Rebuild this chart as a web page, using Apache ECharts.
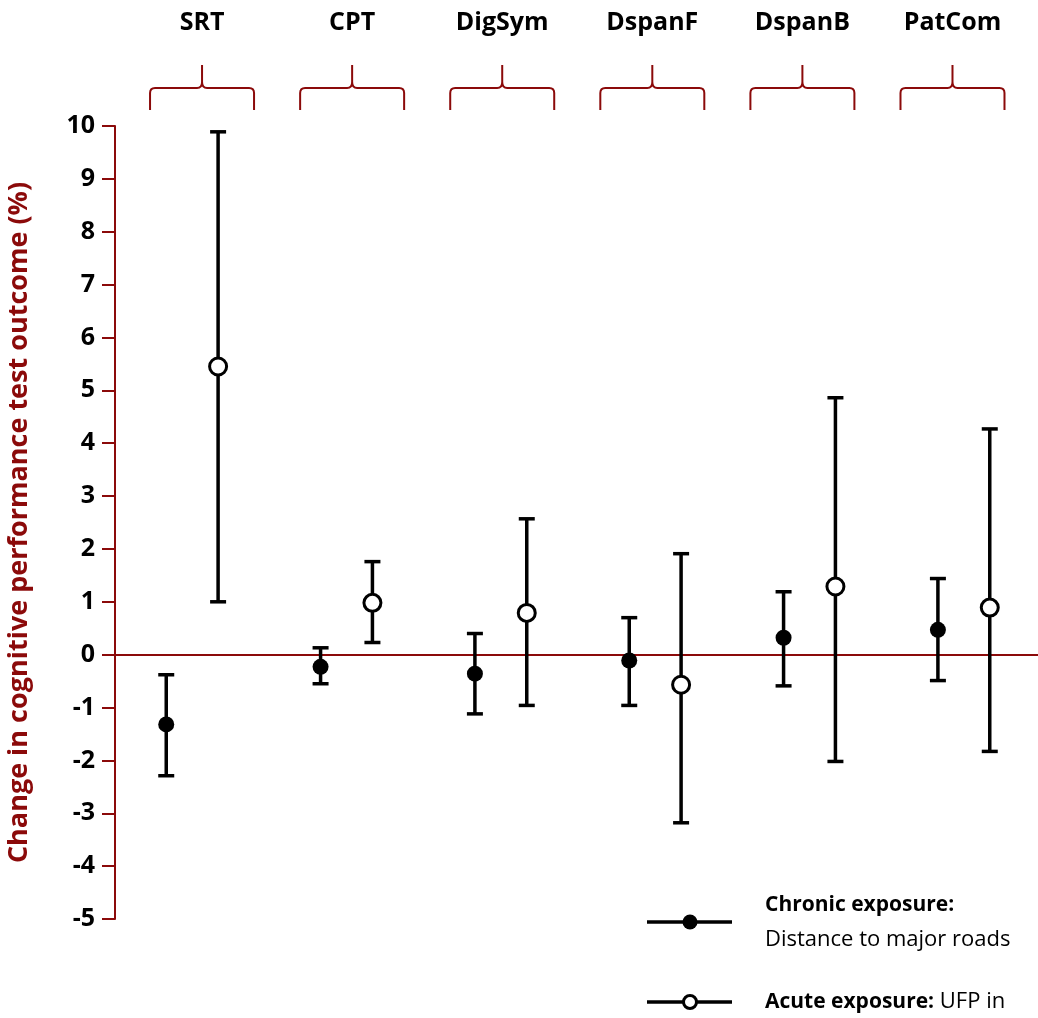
<!DOCTYPE html>
<html>
<head>
<meta charset="utf-8">
<script src="https://cdn.jsdelivr.net/npm/echarts@6/dist/echarts.min.js"></script>
<style>
  html, body { margin: 0; padding: 0; background: #fff; }
  #main { width: 1038px; height: 1018px; }
</style>
</head>
<body>
<div id="main"></div>
<script>
// cognitive tests (groups along x)
var groups = ['SRT', 'CPT', 'DigSym', 'DspanF', 'DspanB', 'PatCom'];

// chronic exposure: distance to major roads
var chronicEst  = [-1.32, -0.23, -0.36, -0.11, 0.32, 0.47];
var chronicLow  = [-2.29, -0.55, -1.12, -0.96, -0.59, -0.49];
var chronicHigh = [-0.38, 0.13, 0.40, 0.70, 1.19, 1.44];

// acute exposure: UFP
var acuteEst  = [5.45, 0.98, 0.79, -0.57, 1.29, 0.89];
var acuteLow  = [1.00, 0.23, -0.96, -3.18, -2.02, -1.83];
var acuteHigh = [9.89, 1.76, 2.57, 1.91, 4.86, 4.27];

var yTicks = [-5, -4, -3, -2, -1, 0, 1, 2, 3, 4, 5, 6, 7, 8, 9, 10];

var red = '#8b0a0a';
var font = '"Open Sans", Lato, sans-serif';
var off = 0.168;
// the braces above the plot sit on a slightly narrower pitch than the point pairs
var braceStart = 0.064, braceStep = 0.9725;

var chart = echarts.init(document.getElementById('main'));

function pts(est, shift) {
    return est.map(function (v, i) { return [i + shift, v]; });
}
function bars(low, high, shift) {
    return low.map(function (v, i) { return [i + shift, v, high[i]]; });
}

function renderErr(params, api) {
    var x = api.value(0);
    var lo = api.coord([x, api.value(1)]);
    var hi = api.coord([x, api.value(2)]);
    var cap = 8;
    var st = { stroke: '#000', lineWidth: 3.5 };
    return {
        type: 'group',
        children: [
            { type: 'line', shape: { x1: lo[0], y1: lo[1], x2: hi[0], y2: hi[1] }, style: st },
            { type: 'line', shape: { x1: lo[0] - cap, y1: lo[1], x2: lo[0] + cap, y2: lo[1] }, style: st },
            { type: 'line', shape: { x1: hi[0] - cap, y1: hi[1], x2: hi[0] + cap, y2: hi[1] }, style: st }
        ]
    };
}

function renderBrace(params, api) {
    var c = api.coord([braceStart + api.value(0) * braceStep, 10]);
    var cx = c[0], top = c[1];
    var yTip = top - 61, yMid = top - 38, yEnd = top - 16, w = 52;
    var d = 'M' + (cx - w) + ' ' + yEnd +
        ' L' + (cx - w) + ' ' + (yMid + 5) +
        ' Q' + (cx - w) + ' ' + yMid + ' ' + (cx - w + 5) + ' ' + yMid +
        ' L' + (cx - 5) + ' ' + yMid +
        ' Q' + cx + ' ' + yMid + ' ' + cx + ' ' + (yMid - 6) +
        ' L' + cx + ' ' + yTip +
        ' M' + cx + ' ' + (yMid - 6) +
        ' Q' + cx + ' ' + yMid + ' ' + (cx + 5) + ' ' + yMid +
        ' L' + (cx + w - 5) + ' ' + yMid +
        ' Q' + (cx + w) + ' ' + yMid + ' ' + (cx + w) + ' ' + (yMid + 5) +
        ' L' + (cx + w) + ' ' + yEnd;
    return {
        type: 'group',
        children: [
            { type: 'path', shape: { pathData: d }, style: { fill: 'none', stroke: red, lineWidth: 2 } },
            { type: 'text', x: cx, y: top - 103, style: {
                text: groups[params.dataIndex], fill: '#000', font: 'bold 25px ' + font,
                align: 'center', verticalAlign: 'middle' } }
        ]
    };
}

var option = {
    animation: false,
    grid: { left: 115, right: -3, top: 126, bottom: 99, containLabel: false, outerBoundsMode: 'none' },
    xAxis: {
        type: 'value', min: -0.5, max: 5.5,
        axisLine: { onZero: true, lineStyle: { color: red, width: 2 } },
        axisTick: { show: false }, axisLabel: { show: false }, splitLine: { show: false }
    },
    yAxis: {
        type: 'value', min: -5, max: 10, interval: 1,
        name: 'Change in cognitive performance test outcome (%)',
        nameLocation: 'middle', nameGap: 82, nameRotate: 90,
        nameTextStyle: { color: red, fontSize: 27, fontWeight: 'bold', fontFamily: font },
        axisLine: { show: true, onZero: false, lineStyle: { color: red, width: 2 } },
        axisTick: { show: true, length: 13, lineStyle: { color: red, width: 2 } },
        axisLabel: { color: '#000', fontSize: 25, fontWeight: 'bold', fontFamily: font, margin: 20,
            formatter: function (v) { return yTicks.indexOf(v) >= 0 ? String(v) : ''; } },
        splitLine: { show: false }
    },
    series: [
        { type: 'custom', renderItem: renderBrace, data: groups.map(function (g, i) { return [i]; }),
          clip: false, silent: true },
        { type: 'custom', renderItem: renderErr, data: bars(chronicLow, chronicHigh, -off), z: 3 },
        { type: 'custom', renderItem: renderErr, data: bars(acuteLow, acuteHigh, off), z: 3 },
        { type: 'scatter', data: pts(chronicEst, -off), symbol: 'circle', symbolSize: 16, z: 5,
          itemStyle: { color: '#000', opacity: 1 } },
        { type: 'scatter', data: pts(acuteEst, off), symbol: 'circle', symbolSize: 17, z: 5,
          itemStyle: { color: '#fff', borderColor: '#000', borderWidth: 3, opacity: 1 } }
    ],
    graphic: [
        { type: 'line', shape: { x1: 647, y1: 922, x2: 732, y2: 922 }, style: { stroke: '#000', lineWidth: 3.5 } },
        { type: 'circle', shape: { cx: 690, cy: 922, r: 7.5 }, style: { fill: '#000' } },
        { type: 'text', x: 765, y: 905, style: { text: 'Chronic exposure:', font: 'bold 21px ' + font, fill: '#000', verticalAlign: 'middle' } },
        { type: 'text', x: 765, y: 940, style: { text: 'Distance to major roads', font: '22px ' + font, fill: '#000', verticalAlign: 'middle' } },
        { type: 'line', shape: { x1: 647, y1: 1002, x2: 732, y2: 1002 }, style: { stroke: '#000', lineWidth: 3.5 } },
        { type: 'circle', shape: { cx: 690, cy: 1002, r: 6.5 }, style: { fill: '#fff', stroke: '#000', lineWidth: 3 } },
        { type: 'text', x: 765, y: 1002, style: {
            text: '{b|Acute exposure:} UFP in',
            font: '22px ' + font, fill: '#000', verticalAlign: 'middle',
            rich: { b: { font: 'bold 21px ' + font, fill: '#000' } } } }
    ]
};

chart.setOption(option);
</script>
</body>
</html>
